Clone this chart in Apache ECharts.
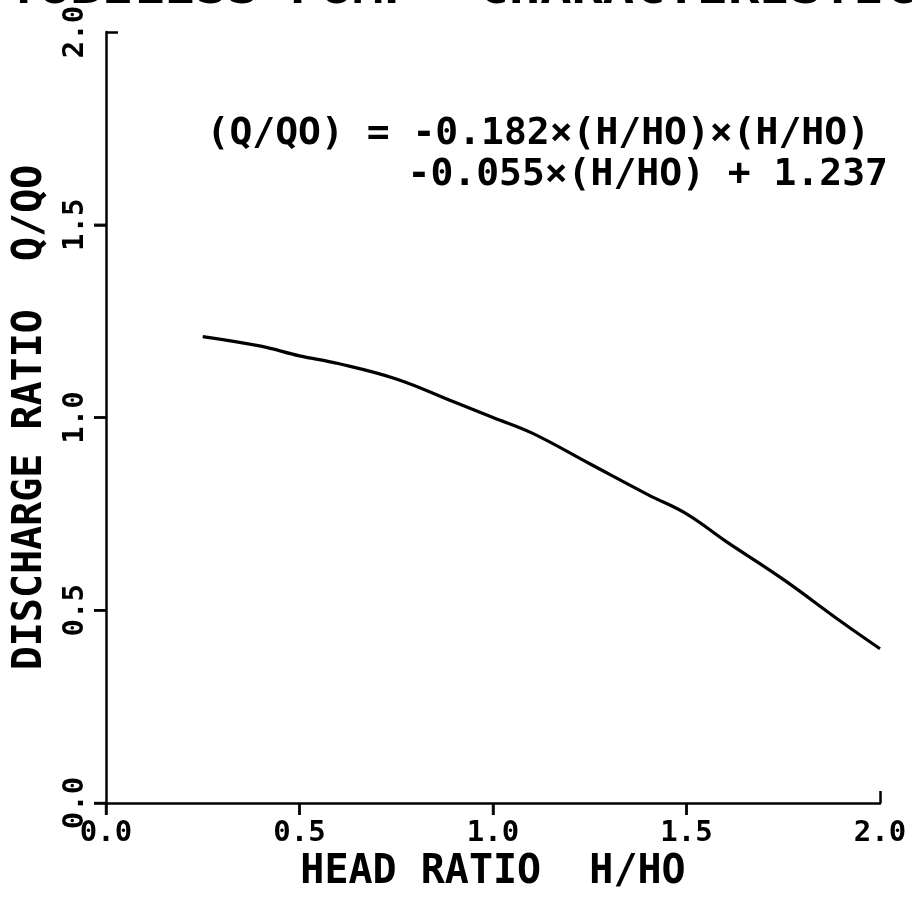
<!DOCTYPE html>
<html>
<head>
<meta charset="utf-8">
<script src="https://cdn.jsdelivr.net/npm/echarts@6/dist/echarts.min.js"></script>
<style>
html,body{margin:0;padding:0;background:#fff;}
#chart{width:917px;height:901px;}
</style>
</head>
<body>
<div id="chart"></div>
<script>
// Data
var headRatio = [0.25, 0.4, 0.5, 0.6, 0.75, 0.9, 1.0, 1.1, 1.25, 1.4, 1.5, 1.6, 1.75, 1.9, 2.0];
var dischargeRatio = [1.21, 1.185, 1.16, 1.14, 1.10, 1.04, 1.00, 0.96, 0.88, 0.80, 0.75, 0.68, 0.58, 0.47, 0.40];
var xTicks = [0.0, 0.5, 1.0, 1.5];
var yTicks = [0.0, 0.5, 1.0, 1.5];
var endTick = [2.0];
var titleText = 'TUBELESS PUMP  CHARACTERISTICS';
var xName = 'HEAD RATIO  H/HO';
var yName = 'DISCHARGE RATIO  Q/QO';
var eqLine1 = '(Q/QO) = -0.182\u00d7(H/HO)\u00d7(H/HO)';
var eqLine2 = '-0.055\u00d7(H/HO) + 1.237';

var FONT = '"DejaVu Sans Mono", "Liberation Mono", monospace';
var INK = '#000';

var chart = echarts.init(document.getElementById('chart'), null, {renderer: 'canvas'});

function fmt(v) { return Number(v).toFixed(1); }

var lineData = headRatio.map(function (h, i) { return [h, dischargeRatio[i]]; });

// plot box
var L = 106, R = 37, T = 32, B = 98, W = 917 - L - R, H = 901 - T - B;
var TICK = 12;
var gridBox = {left: L, right: R, top: T, bottom: B, containLabel: false};

function axisBase(extra) {
  return Object.assign({
    type: 'value', min: 0, max: 2, interval: 0.5,
    splitLine: {show: false}
  }, extra);
}

function endTickAxis(position) {
  return axisBase({
    gridIndex: 1, position: position,
    axisLine: {show: false, onZero: false},
    axisTick: {show: true, inside: true, length: TICK, customValues: endTick,
               lineStyle: {color: INK, width: 2.5}},
    axisLabel: {show: false}
  });
}

// strip axes: same scale as the plot, ending at 1.5 so no outward tick at 2.0
function stripAxis(gridIndex) {
  return {
    type: 'value', gridIndex: gridIndex, min: 0, max: 1.5, interval: 0.5,
    axisLine: {show: false}, axisTick: {show: false}, axisLabel: {show: false},
    splitLine: {show: true, lineStyle: {color: INK, width: 2.5}}
  };
}
function hiddenUnit(gridIndex) {
  return {type: 'value', gridIndex: gridIndex, min: 0, max: 1,
          axisLine: {show: false}, axisTick: {show: false}, axisLabel: {show: false},
          splitLine: {show: false}};
}

var option = {
  backgroundColor: '#fff',
  animation: false,
  grid: [
    Object.assign({}, gridBox),                                   // 0 main
    Object.assign({}, gridBox),                                   // 1 inward end ticks
    {left: L, width: W * 0.75, top: T + H, height: TICK},         // 2 x tick strip
    {left: L - TICK, width: TICK, top: T + H * 0.25, bottom: B}   // 3 y tick strip
  ],
  graphic: [
    {type: 'text', left: 8, top: -37, z: 10,
     style: {text: titleText, font: 'bold 52px ' + FONT, fill: INK}},
    {type: 'text', right: 917 - 870, top: 115, z: 10,
     style: {text: eqLine1, font: 'bold 38px ' + FONT, fill: INK}},
    {type: 'text', right: 917 - 888, top: 156, z: 10,
     style: {text: eqLine2, font: 'bold 38px ' + FONT, fill: INK}}
  ],
  xAxis: [
    axisBase({
      gridIndex: 0, position: 'bottom',
      axisLine: {show: true, onZero: false, lineStyle: {color: INK, width: 2.5}},
      axisTick: {show: false},
      axisLabel: {show: true, margin: 16, formatter: fmt, color: INK,
                  fontFamily: FONT, fontWeight: 'bold', fontSize: 29},
      name: xName, nameLocation: 'middle', nameGap: 50,
      nameTextStyle: {color: INK, fontFamily: FONT, fontWeight: 'bold', fontSize: 40}
    }),
    endTickAxis('bottom'),
    stripAxis(2),
    hiddenUnit(3)
  ],
  yAxis: [
    axisBase({
      gridIndex: 0, position: 'left',
      axisLine: {show: true, onZero: false, lineStyle: {color: INK, width: 2.5}},
      axisTick: {show: false},
      axisLabel: {show: true, margin: 16, rotate: 90, formatter: fmt, color: INK,
                  fontFamily: FONT, fontWeight: 'bold', fontSize: 29},
      name: yName, nameLocation: 'middle', nameGap: 55, nameRotate: 90,
      nameTextStyle: {color: INK, fontFamily: FONT, fontWeight: 'bold', fontSize: 40}
    }),
    endTickAxis('left'),
    hiddenUnit(2),
    stripAxis(3)
  ],
  series: [
    {
      type: 'line',
      xAxisIndex: 0, yAxisIndex: 0,
      data: lineData,
      smooth: 0.4,
      showSymbol: false,
      lineStyle: {color: INK, width: 3.2},
      z: 5
    },
    {
      type: 'scatter', xAxisIndex: 2, yAxisIndex: 2, clip: false, silent: true,
      data: xTicks.map(function (v) { return [v, 0.5]; }),
      symbol: 'rect', symbolSize: [2.5, TICK], itemStyle: {color: INK}
    },
    {
      type: 'scatter', xAxisIndex: 3, yAxisIndex: 3, clip: false, silent: true,
      data: yTicks.map(function (v) { return [0.5, v]; }),
      symbol: 'rect', symbolSize: [TICK, 2.5], itemStyle: {color: INK}
    }
  ]
};

chart.setOption(option);
</script>
</body>
</html>
